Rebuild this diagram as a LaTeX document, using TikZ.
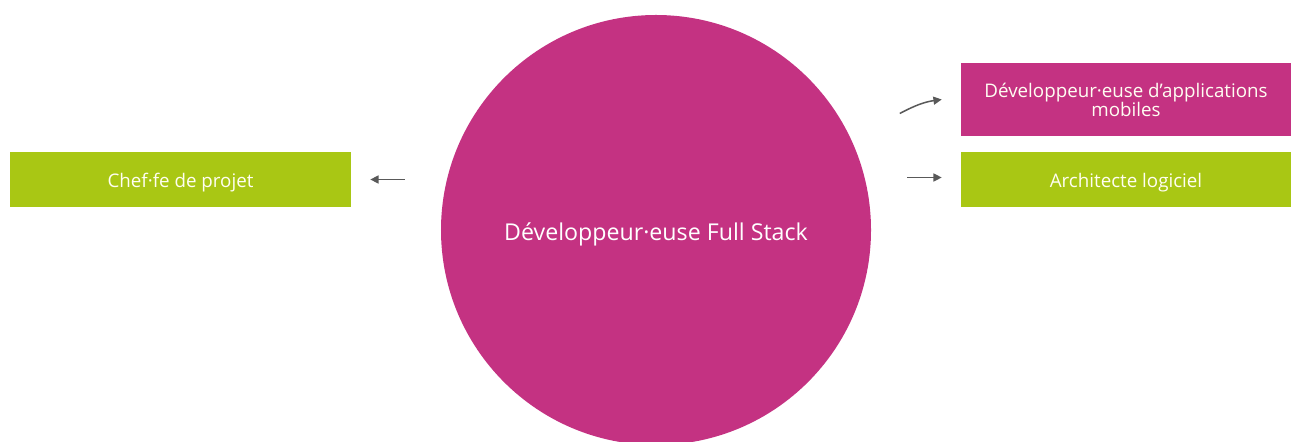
\documentclass[tikz,border=0pt]{standalone}
\usepackage{fontspec}
\setmainfont{Open Sans}
\usepackage{xcolor}
\usetikzlibrary{arrows.meta,calc,positioning}
\definecolor{rose}{RGB}{196,50,130}
\definecolor{vert}{RGB}{169,199,20}
\definecolor{fleche}{RGB}{89,89,89}
\newcommand{\bas}[2][3pt]{\raisebox{-#1}[\height][\depth]{#2}}
\begin{document}
\begin{tikzpicture}[x=0.03cm, y=0.03cm, >={Triangle[length=0.25cm,width=0.24cm]}]
    \tikzset{
        a/.style={->, fleche, line width=1.3pt},
        bx/.style={rectangle, inner sep=0pt, text=white!95!yellow, align=center, font={\fontsize{16}{17}\selectfont}},
        rond/.style={circle, fill=rose, inner sep=0pt, minimum size=12.9cm, text=white, font={\fontsize{19.8}{23}\selectfont}}
    }

    \useasboundingbox (0,0) rectangle (1291,441);

    \begin{scope}
        \clip (0,0) rectangle (1291,441);
        \node [rond] (dev) at (656,211) {\bas[3.5pt]{Développeur·euse Full Stack}};
    \end{scope}

    \node [bx, fill=vert, minimum width=10.23cm, minimum height=1.65cm] (chef) at (180.5,261.5) {\bas{Chef·fe de projet}};
    \node [bx, fill=rose, minimum width=9.9cm, minimum height=2.19cm] (mobile) at (1126,341.5)
        {\bas[2.5pt]{\begin{tabular}{@{}c@{}}Développeur·euse d’applications\\[-1pt]mobiles\end{tabular}}};
    \node [bx, fill=vert, minimum width=9.9cm, minimum height=1.65cm] (archi) at (1126,261.5) {\bas{Architecte logiciel}};

    % connecteurs
    \draw [a, shorten <=1.08cm, shorten >=0.57cm] (dev.west |- chef.east) -- (chef.east);
    \draw [a, shorten <=1.08cm, shorten >=0.57cm] ($(dev.east |- archi.west)+(0,2)$) -- ($(archi.west)+(0,2)$);

    \coordinate (m0) at ($(mobile.west)+(-61,-14)$);
    \coordinate (m1) at ($(mobile.west)+(-19,0)$);
    \draw [a] (m0) to [out=28, in=188] (m1);
\end{tikzpicture}
\end{document}
